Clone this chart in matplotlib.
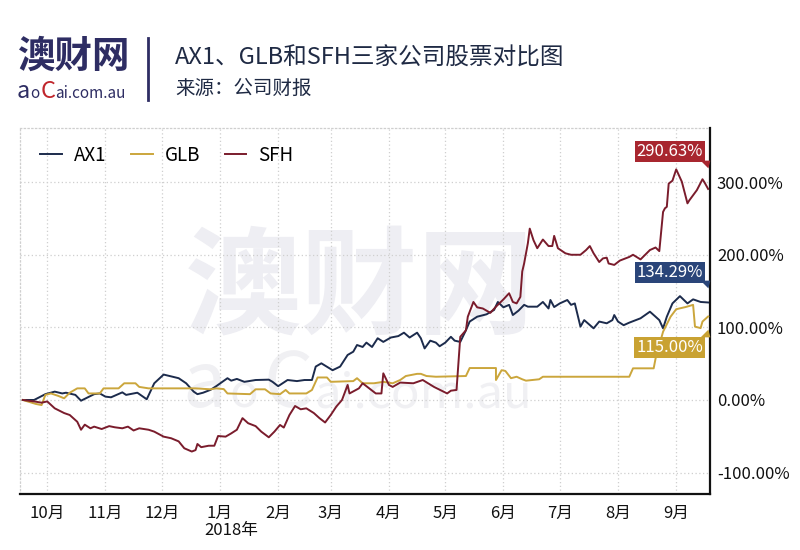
import matplotlib
matplotlib.use("Agg")
import matplotlib.pyplot as plt
import matplotlib.transforms as mtransforms
import pandas as pd

plt.rcParams["font.family"] = ["Noto Sans CJK SC", "DejaVu Sans"]

# ---- data (days after 2017-09-18, cumulative return in %) ----
START = pd.Timestamp("2017-09-18")

ax1_day = [0, 6, 12, 17, 21, 23, 28, 31, 38, 41, 44, 47, 53, 55, 61, 66, 70, 75, 83, 87,
           91, 93, 96, 100, 103, 109, 111, 114, 118, 124, 131, 133, 136, 141, 146, 150,
           154, 156, 159, 165, 169, 173, 176, 178, 181, 183, 186, 189, 192, 196, 200, 203,
           206, 210, 212, 214, 217, 220, 222, 225, 228, 230, 233, 236, 238, 242, 247, 251,
           253, 256, 259, 261, 264, 267, 269, 274, 277, 280, 281, 283, 286, 290, 292, 294,
           297, 299, 304, 307, 311, 314, 315, 317, 320, 323, 329, 334, 337, 339, 341, 343,
           346, 350, 354, 357, 361, 365]
ax1_val = [0, 0, 8, 11.5, 9, 10, 7, -1, 8, 9, 4.6, 3.7, 10.5, 7, 10, 1, 23, 35, 30, 23,
           11.5, 8, 10, 14, 19, 30, 26.6, 29, 25, 27.5, 28, 25, 19, 27.5, 26, 27.5,
           27.5, 46, 50.5, 41, 46, 62, 66.5, 75.7, 73, 79, 73, 85, 80, 86, 88, 92.7,
           86, 92.7, 85, 71, 81.7, 79, 74, 79, 87, 81.7, 80, 96, 108, 114.7, 118, 124,
           135, 127.6, 131, 117, 123, 131, 128.5, 128.5, 135, 126, 137.7, 128, 133, 137.7, 131, 133,
           101, 110, 98.7, 108, 105.6, 110, 117, 108, 103, 106.5, 112.5, 121.6, 114.7, 110, 98.7, 114.7,
           133, 143, 133, 138.6, 135, 134.29]

glb_day = [0, 7, 10, 12, 15, 19, 22, 25, 29, 33, 35, 41, 43, 51, 54, 60, 62, 67, 92, 100,
           103, 107, 109, 121, 124, 129, 132, 137, 140, 142, 151, 154, 157, 162, 164, 176,
           178, 181, 187, 192, 197, 201, 204, 210, 212, 215, 220, 236, 238, 252, 252, 255,
           257, 260, 263, 266, 268, 275, 277, 323, 325, 336, 337, 341, 345, 348, 353, 357,
           358, 361, 362, 365]
glb_val = [0, -5.5, -7, 7, 9, 5.5, 2.3, 10, 16, 16, 9, 9, 16, 16, 23, 23, 18, 16, 16, 14.7,
           16, 15, 9, 8, 14.7, 14.7, 9, 8, 13.8, 9, 9, 13.8, 31, 31, 25, 26,
           30, 23, 23, 25, 23, 27.5, 33, 36, 36, 33, 32, 33, 44, 44, 27.5, 41,
           40, 30, 32, 28.5, 26.6, 28.5, 32, 32, 43.6, 43.6, 57, 94, 114.7, 125, 128, 131,
           101, 99, 108, 115]

sfh_day = [0, 6, 10, 13, 17, 22, 25, 29, 31, 33, 36, 38, 42, 46, 49, 53, 56, 59, 62, 67,
           70, 75, 79, 83, 86, 90, 92, 93, 95, 99, 102, 104, 108, 111, 114, 117, 120, 124,
           127, 131, 134, 137, 139, 142, 145, 148, 151, 155, 158, 161, 164, 167, 170, 173,
           174, 179, 181, 183, 188, 191, 192, 195, 197, 201, 208, 213, 219, 226, 228, 231,
           232, 233, 236, 237, 240, 242, 245, 249, 252, 256, 259, 261, 263, 265, 266, 267,
           269, 270, 272, 274, 277, 280, 282, 283, 285, 289, 292, 297, 300, 302, 304, 307,
           309, 311, 312, 315, 318, 323, 325, 329, 334, 337, 339, 341, 342, 343, 344, 346,
           348, 351, 354, 355, 357, 359, 362, 363, 365]
sfh_val = [0, -2, -3.7, -2, -11.5, -18, -20.7, -30, -41, -34, -39, -36.7, -40, -36, -37.6, -39, -36.7, -42, -39, -41,
           -43.6, -50.5, -52.7, -57, -66.5, -71, -69, -60.6, -65, -63, -63, -49.6, -50.5, -46, -41, -25, -32, -36,
           -43.6, -51.4, -43.6, -34.4, -38, -20.7, -8.3, -12.8, -11.5, -18, -25, -31, -20.7, -9, 0, 20.7,
           9, 16, 23, 19, 9, 9, 36.7, 20.7, 18, 24, 23, 27.5, 18, 9, 12.8, 13.8,
           50.5, 87, 96, 114.7, 135, 127.6, 126, 120, 128.5, 138.6, 147, 135, 133, 142, 177, 188,
           216, 236, 220, 209, 221, 212, 212, 226, 209, 202, 200, 200, 206.5, 212, 202, 190,
           195, 196, 188, 186, 192, 197, 200, 193.6, 206.5, 210, 205, 259, 264, 266, 298, 302,
           317.6, 300.6, 270.8, 275, 282, 289, 304, 300, 290.63]

series_names = ["AX1", "GLB", "SFH"]
series_colors = ["#1c2b4c", "#cba63c", "#7a1c2c"]
box_colors = ["#2a4579", "#c9a232", "#a8262f"]
end_labels = ["134.29%", "115.00%", "290.63%"]
# box offset / tail offset in pixels from the last point
label_offsets = [(-5, 30), (-5, -31), (-5, 37)]
tail_offsets = [(-3, 17), (-3, -16), (-3, 24)]
tail_down = [(0, 0), (-1, 1), (1, 1), (0.6, -0.6)]
tail_up = [(0, 0), (-1, -1), (1, -1), (0.6, 0.6)]
tail_shapes = [tail_down, tail_up, tail_down]

month_labels = ["10月", "11月", "12月", "1月", "2月", "3月", "4月", "5月", "6月", "7月", "8月", "9月"]
y_ticks = [-100, 0, 100, 200, 300]

TXT = "#1f2a44"
GRID = "#cfcfcf"
LOGO = "#2e2d63"
WM = "#eeeef3"


def to_dates(days):
    return START + pd.to_timedelta(days, unit="D")


def px(x, y):
    """pixel position (from top-left) -> figure fraction"""
    return x / 800, 1 - y / 550


fig = plt.figure(figsize=(8, 5.5), dpi=100)
ax = fig.add_axes([0.025, 0.1018, 0.8625, 0.6655])

# watermark (drawn inside the axes, under the lines)
ax.text(*px(360, 290), "澳财网", transform=fig.transFigure, fontsize=84, fontweight="bold",
        color=WM, ha="center", va="center", zorder=0)
for t, x, fs in [("a", 182, 56), ("o", 229, 34), ("C", 264, 56), ("ai.com.au", 314, 34)]:
    ax.text(*px(x, 407), t, transform=fig.transFigure, fontsize=fs, color="#f0f0f3",
            ha="left", va="baseline", zorder=0)

lines_data = [(ax1_day, ax1_val), (glb_day, glb_val), (sfh_day, sfh_val)]
for (d, v), name, c in zip(lines_data, series_names, series_colors):
    ax.plot(to_dates(d), v, color=c, lw=1.4, label=name, zorder=3)

# end-value boxes with small tails
for (d, v), lab, bc, off, toff, shp in zip(lines_data, end_labels, box_colors,
                                            label_offsets, tail_offsets, tail_shapes):
    xe = to_dates([d[-1]])[0]
    ax.annotate(lab, xy=(xe, v[-1]), xytext=off,
                textcoords="offset pixels", ha="right", va="center",
                fontsize=12, color="white", zorder=5,
                bbox=dict(boxstyle="square,pad=0.12", fc=bc, ec="none"))
    tr = mtransforms.offset_copy(ax.transData, fig=fig, x=toff[0], y=toff[1], units="dots")
    ax.plot([xe], [v[-1]], marker=shp, ms=7, color=bc, mec="none", transform=tr,
            zorder=5, clip_on=False)

ax.set_xlim(to_dates([-1.5])[0], to_dates([366])[0])
ax.set_ylim(-129.5, 374.6)

# month ticks
month_pos = pd.date_range("2017-10-01", "2018-09-01", freq="MS")
ax.set_xticks(month_pos)
ax.set_xticklabels(month_labels)
trans = mtransforms.blended_transform_factory(ax.transData, ax.transAxes)
ax.text(pd.Timestamp("2018-01-07"), -0.101, "2018年", transform=trans,
        ha="center", va="center", fontsize=12, color="#111111")

ax.set_yticks(y_ticks)
ax.set_yticklabels([f"{t:.2f}%" for t in y_ticks])
ax.yaxis.tick_right()
ax.tick_params(axis="both", length=0, labelsize=12, colors="#111111")
ax.tick_params(axis="x", pad=8)
ax.tick_params(axis="y", pad=5)

ax.grid(True, color=GRID, linestyle=(0, (1, 2)), lw=0.9, zorder=1)
for s in ["left", "top"]:
    ax.spines[s].set_color(GRID)
    ax.spines[s].set_linestyle((0, (1, 2)))
    ax.spines[s].set_linewidth(0.9)
for s in ["bottom", "right"]:
    ax.spines[s].set_color("#111111")
    ax.spines[s].set_linewidth(1.6)

ax.legend(loc="upper left", bbox_to_anchor=(0.005, 1.0), ncol=3, frameon=False,
          fontsize=13.5, handlelength=1.15, columnspacing=1.3, handletextpad=0.65)

# header
fig.text(*px(18, 56), "澳财网", fontsize=27, fontweight="bold", color=LOGO,
         ha="left", va="center")
fig.text(*px(17, 98), "a", fontsize=17, color=LOGO, ha="left", va="baseline")
fig.text(*px(30, 98), "o", fontsize=11, color=LOGO, ha="left", va="baseline")
fig.text(*px(41, 98), "C", fontsize=17, color="#c0262c", ha="left", va="baseline")
fig.text(*px(55, 98), "ai.com.au", fontsize=11, color=LOGO, ha="left", va="baseline")
fig.add_artist(plt.Line2D([148 / 800, 148 / 800], [1 - 38 / 550, 1 - 100 / 550],
                          color=LOGO, lw=2, transform=fig.transFigure))
fig.text(*px(175, 58), "AX1、GLB和SFH三家公司股票对比图", fontsize=17,
         color=TXT, ha="left", va="center")
fig.text(*px(175, 88), "来源：公司财报", fontsize=14, color=TXT,
         ha="left", va="center")

fig.savefig("out.png", dpi=100)
